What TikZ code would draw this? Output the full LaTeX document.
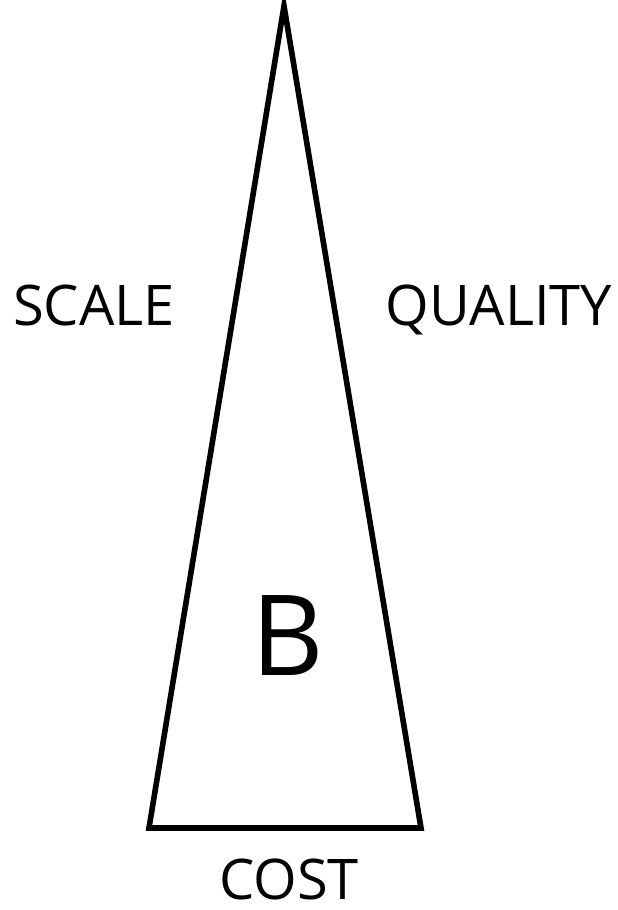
\documentclass[tikz,border=0pt]{standalone}
\usepackage{fontspec}
\setmainfont{Open Sans}
\usepackage{tikz}

\begin{document}
\begin{tikzpicture}[x=0.5pt,y=-0.5pt,
    label/.style={font=\fontsize{28}{30}\selectfont, inner sep=0pt, anchor=base},
    side/.style={line width=2.8pt, line join=miter}]
    %----------------------------------------
    % FRAME (617 x 910 px)
    %----------------------------------------
    \useasboundingbox (0,0) rectangle (617,910);

    % corners of the triangle
    \coordinate (top) at (284,6);
    \coordinate (left) at (149,828);
    \coordinate (right) at (421,828);

    \draw[side] (top) -- (right) -- (left) -- cycle;

    %----------------------------------------
    % Labels (placed on their base lines)
    %----------------------------------------
    \node[label] (scale) at (94,325) {SCALE};
    \node[label] (quality) at (499,325) {QUALITY};
    \node[label] (cost) at (289,899) {COST};
    \node[label, font=\fontsize{56}{60}\selectfont] (b) at (288,675) {B};

\end{tikzpicture}
\end{document}
